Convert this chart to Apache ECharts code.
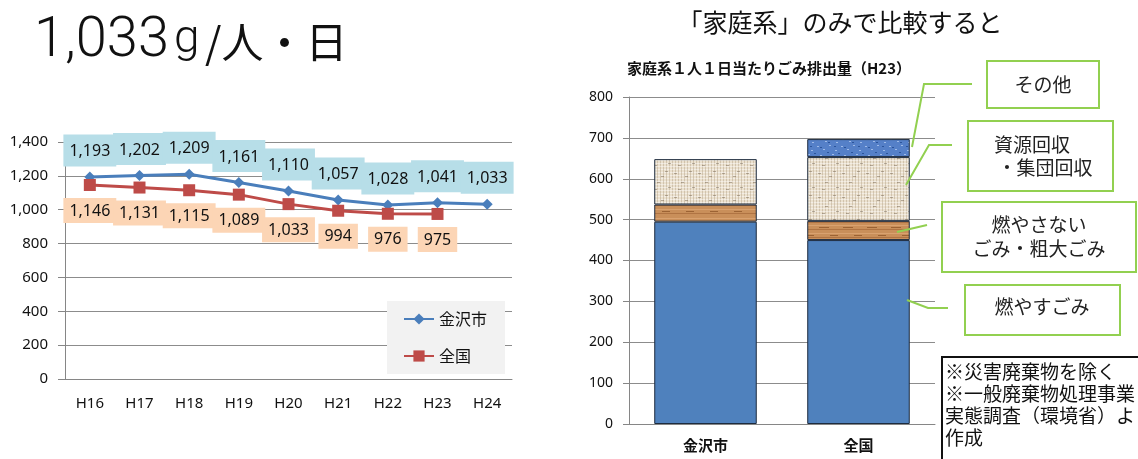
<!DOCTYPE html>
<html>
<head>
<meta charset="utf-8">
<style>
  html, body { margin: 0; padding: 0; background: #fff; }
  #main { width: 1138px; height: 459px; }
</style>
<script src="https://cdn.jsdelivr.net/npm/echarts@6/dist/echarts.min.js"></script>
</head>
<body>
<div id="main"></div>
<script>
// 左: 1人1日当たりごみ排出量の推移
var years = ['H16', 'H17', 'H18', 'H19', 'H20', 'H21', 'H22', 'H23', 'H24'];
var kanazawa = [1193, 1202, 1209, 1161, 1110, 1057, 1028, 1041, 1033];
var zenkoku = [1146, 1131, 1115, 1089, 1033, 994, 976, 975, null];

// 右: 家庭系の内訳 (H23)
var compareCats = ['金沢市', '全国'];
var moyasu = [495, 450];      // 燃やすごみ
var moyasanai = [42, 47];     // 燃やさないごみ・粗大ごみ
var shigen = [111, 156];      // 資源回収・集団回収
var sonota = [null, 44];      // その他

var JP = '"Noto Sans CJK JP", "Noto Sans", sans-serif';
var LAT = '"Noto Sans", "Noto Sans CJK JP", sans-serif';

function fmt(v) {
    return Number(v).toLocaleString('en-US');
}

// 模様 (テクスチャ風)
function makePattern(base, draw) {
    var c = document.createElement('canvas');
    c.width = 24;
    c.height = 24;
    var g = c.getContext('2d');
    g.fillStyle = base;
    g.fillRect(0, 0, 24, 24);
    draw(g);
    return { image: c, repeat: 'repeat' };
}

var burlap = makePattern('#ebe1cf', function(g) {
    var i;
    for (i = 0; i < 24; i += 3) {
        g.fillStyle = 'rgba(160,140,110,0.35)';
        g.fillRect(i, 0, 1, 24);
        g.fillStyle = 'rgba(255,255,255,0.45)';
        g.fillRect(0, i + 1, 24, 1);
    }
    g.fillStyle = 'rgba(110,95,75,0.45)';
    [[2, 5], [9, 14], [17, 3], [20, 19], [6, 21], [13, 8]].forEach(function(p) {
        g.fillRect(p[0], p[1], 3, 1);
    });
});

var wood = makePattern('#c98f5a', function(g) {
    var rows = [2, 6, 9, 13, 17, 21];
    rows.forEach(function(y, k) {
        g.fillStyle = k % 2 ? '#b07443' : '#d9a270';
        g.fillRect(0, y, 24, 1);
    });
    g.fillStyle = '#9c6334';
    g.fillRect(3, 11, 10, 1);
    g.fillRect(14, 19, 8, 1);
});

var blueTex = makePattern('#5580c8', function(g) {
    g.fillStyle = '#9fbbe8';
    [[1, 2], [7, 5], [13, 1], [19, 6], [4, 11], [10, 14], [16, 10], [21, 15], [2, 19], [9, 21], [15, 18], [20, 22]].forEach(function(p) {
        g.fillRect(p[0], p[1], 2, 1);
    });
    g.fillStyle = '#2c559b';
    [[4, 3], [11, 8], [18, 2], [0, 14], [7, 17], [14, 13], [22, 9], [12, 22]].forEach(function(p) {
        g.fillRect(p[0], p[1], 2, 1);
    });
});

var chart = echarts.init(document.getElementById('main'));

var green = '#92d050';

var option = {
    animation: false,
    textStyle: { fontFamily: LAT },
    grid: [
        { left: 65, right: 626, top: 142, bottom: 80 },
        { left: 629, right: 203, top: 97, bottom: 35 }
    ],
    legend: {
        data: ['金沢市', '全国'],
        left: 387,
        top: 301,
        orient: 'vertical',
        backgroundColor: '#f2f2f2',
        padding: [10, 18, 10, 16],
        itemWidth: 30,
        itemHeight: 14,
        itemGap: 21,
        textStyle: { fontFamily: JP, fontSize: 16, color: '#111' }
    },
    xAxis: [{
        gridIndex: 0,
        type: 'category',
        data: years,
        axisLine: { lineStyle: { color: '#868686' } },
        axisTick: { length: 6, lineStyle: { color: '#868686' } },
        axisLabel: { fontSize: 15, color: '#111', margin: 17 }
    }, {
        gridIndex: 1,
        type: 'category',
        data: compareCats,
        axisLine: { lineStyle: { color: '#868686' } },
        axisTick: { length: 5, lineStyle: { color: '#868686' } },
        axisLabel: { fontSize: 15, color: '#111', fontWeight: 'bold', fontFamily: JP, margin: 14 }
    }],
    yAxis: [{
        gridIndex: 0,
        type: 'value',
        min: 0,
        max: 1400,
        interval: 200,
        axisLine: { show: true, lineStyle: { color: '#868686' } },
        axisTick: { show: true, length: 7, lineStyle: { color: '#868686' } },
        splitLine: { lineStyle: { color: '#8c8c8c' } },
        axisLabel: { fontSize: 15, color: '#111', margin: 17, formatter: fmt }
    }, {
        gridIndex: 1,
        type: 'value',
        min: 0,
        max: 800,
        interval: 100,
        axisLine: { show: true, lineStyle: { color: '#868686' } },
        axisTick: { show: true, length: 6, lineStyle: { color: '#868686' } },
        splitLine: { lineStyle: { color: '#8c8c8c' } },
        axisLabel: { fontSize: 14, color: '#111', margin: 16 }
    }],
    series: [{
        name: '金沢市',
        type: 'line',
        xAxisIndex: 0,
        yAxisIndex: 0,
        data: kanazawa,
        symbol: 'diamond',
        symbolSize: 11,
        color: '#4a7ebb',
        lineStyle: { width: 3 },
        label: {
            show: true,
            position: 'top',
            distance: 5,
            formatter: function(p) { return fmt(p.value); },
            backgroundColor: '#b7dee8',
            padding: [9, 6, 7, 6],
            fontSize: 16,
            color: '#111'
        }
    }, {
        name: '全国',
        type: 'line',
        xAxisIndex: 0,
        yAxisIndex: 0,
        data: zenkoku,
        symbol: 'rect',
        symbolSize: 12,
        color: '#be4b48',
        lineStyle: { width: 3 },
        label: {
            show: true,
            position: 'bottom',
            distance: 7,
            formatter: function(p) { return fmt(p.value); },
            backgroundColor: '#fcd5b5',
            padding: [5, 6, 4, 6],
            fontSize: 16,
            color: '#111'
        }
    }, {
        name: '燃やすごみ',
        type: 'bar',
        xAxisIndex: 1,
        yAxisIndex: 1,
        stack: 'katei',
        data: moyasu,
        barCategoryGap: '33%',
        itemStyle: { color: '#4f81bd', borderColor: '#1d2b3e', borderWidth: 1 }
    }, {
        name: '燃やさないごみ・粗大ごみ',
        type: 'bar',
        xAxisIndex: 1,
        yAxisIndex: 1,
        stack: 'katei',
        data: moyasanai,
        itemStyle: { color: wood, borderColor: '#1d2b3e', borderWidth: 1 }
    }, {
        name: '資源回収・集団回収',
        type: 'bar',
        xAxisIndex: 1,
        yAxisIndex: 1,
        stack: 'katei',
        data: shigen,
        itemStyle: { color: burlap, borderColor: '#1d2b3e', borderWidth: 1 }
    }, {
        name: 'その他',
        type: 'bar',
        xAxisIndex: 1,
        yAxisIndex: 1,
        stack: 'katei',
        data: sonota,
        itemStyle: { color: blueTex, borderColor: '#1d2b3e', borderWidth: 1 }
    }],
    graphic: [
        // 見出し
        {
            type: 'text', x: 34, y: 42,
            style: { text: '1,033', fontSize: 56, fontFamily: 'Roboto', fontWeight: 300, fill: '#111', verticalAlign: 'middle' }
        },
        {
            type: 'text', x: 174, y: 40,
            style: { text: 'g', fontSize: 46, fontFamily: 'Roboto', fontWeight: 300, fill: '#111', verticalAlign: 'middle' }
        },
        {
            type: 'text', x: 205, y: 42,
            style: { text: '/人・日', fontSize: 42, fontFamily: '"Noto Sans CJK JP"', fill: '#111', verticalAlign: 'middle' }
        },
        {
            type: 'text', x: 840, y: 22,
            style: { text: '「家庭系」のみで比較すると', fontSize: 25, fontFamily: JP, fill: '#111', align: 'center', verticalAlign: 'middle' }
        },
        {
            type: 'text', x: 769, y: 68,
            style: { text: '家庭系１人１日当たりごみ排出量（H23）', fontSize: 15, fontFamily: JP, fontWeight: 'bold', fill: '#111', align: 'center', verticalAlign: 'middle' }
        },
        // 引き出し線
        { type: 'polyline', z: 10, shape: { points: [[972, 84], [924, 84], [912, 147]] }, style: { stroke: green, lineWidth: 2, fill: null } },
        { type: 'polyline', z: 10, shape: { points: [[952, 145], [929, 145], [906, 185]] }, style: { stroke: green, lineWidth: 2, fill: null } },
        { type: 'polyline', z: 10, shape: { points: [[927, 225], [897, 232]] }, style: { stroke: green, lineWidth: 2, fill: null } },
        { type: 'polyline', z: 10, shape: { points: [[948, 308], [928, 308], [907, 300]] }, style: { stroke: green, lineWidth: 2, fill: null } },
        // 吹き出し
        { type: 'rect', z: 10, shape: { x: 987, y: 61, width: 112, height: 47 }, style: { fill: '#fff', stroke: green, lineWidth: 2 } },
        { type: 'text', z: 11, x: 1043, y: 85, style: { text: 'その他', fontSize: 19, fontFamily: JP, fill: '#222', align: 'center', verticalAlign: 'middle' } },
        { type: 'rect', z: 10, shape: { x: 968, y: 121, width: 145, height: 70 }, style: { fill: '#fff', stroke: green, lineWidth: 2 } },
        { type: 'text', z: 11, x: 1032, y: 145, style: { text: '資源回収', fontSize: 19, fontFamily: JP, fill: '#222', align: 'center', verticalAlign: 'middle' } },
        { type: 'text', z: 11, x: 1045, y: 168, style: { text: '・集団回収', fontSize: 19, fontFamily: JP, fill: '#222', align: 'center', verticalAlign: 'middle' } },
        { type: 'rect', z: 10, shape: { x: 942, y: 202, width: 194, height: 70 }, style: { fill: '#fff', stroke: green, lineWidth: 2 } },
        { type: 'text', z: 11, x: 1039, y: 225, style: { text: '燃やさない', fontSize: 19, fontFamily: JP, fill: '#222', align: 'center', verticalAlign: 'middle' } },
        { type: 'text', z: 11, x: 1039, y: 249, style: { text: 'ごみ・粗大ごみ', fontSize: 19, fontFamily: JP, fill: '#222', align: 'center', verticalAlign: 'middle' } },
        { type: 'rect', z: 10, shape: { x: 965, y: 285, width: 155, height: 50 }, style: { fill: '#fff', stroke: green, lineWidth: 2 } },
        { type: 'text', z: 11, x: 1042, y: 307, style: { text: '燃やすごみ', fontSize: 19, fontFamily: JP, fill: '#222', align: 'center', verticalAlign: 'middle' } },
        // 注記
        { type: 'rect', z: 10, shape: { x: 942, y: 357, width: 210, height: 110 }, style: { fill: '#fff', stroke: '#111', lineWidth: 2 } },
        {
            type: 'text', z: 11, x: 945, y: 361,
            style: {
                text: '※災害廃棄物を除く\n※一般廃棄物処理事業\n実態調査（環境省）より\n作成',
                fontSize: 19, lineHeight: 22, fontFamily: JP, fill: '#111'
            }
        }
    ]
};

chart.setOption(option);
</script>
</body>
</html>
